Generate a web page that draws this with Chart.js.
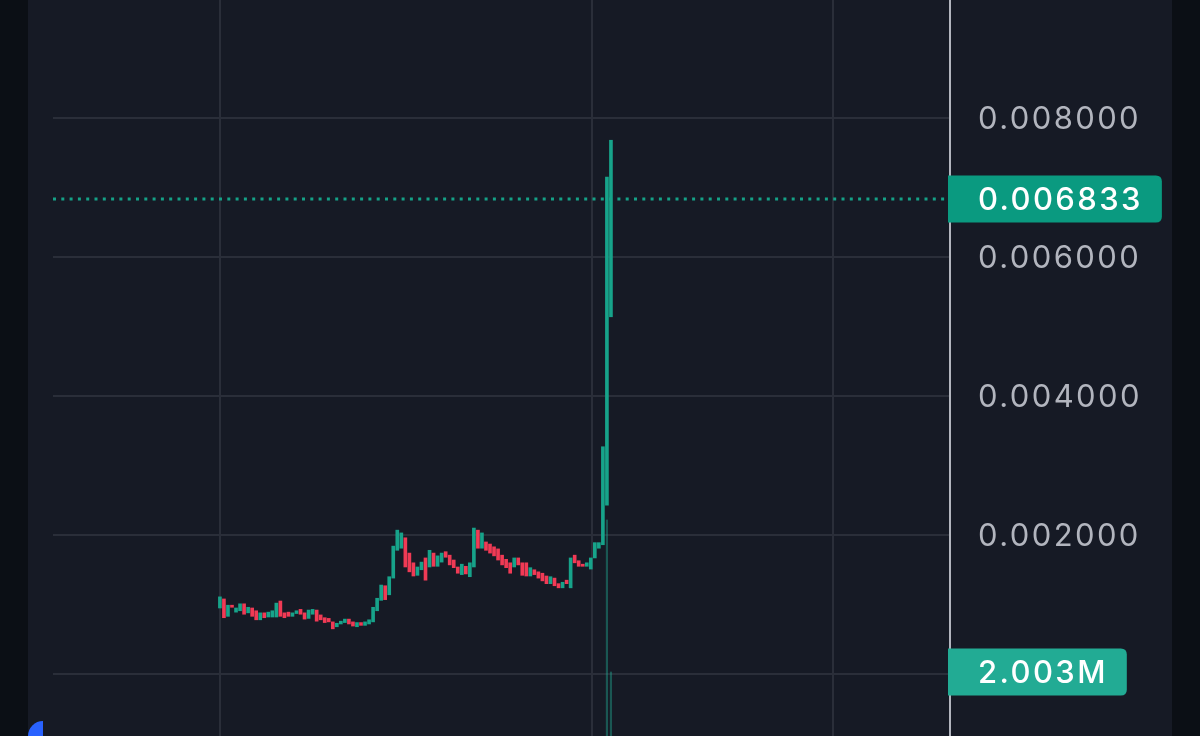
<!DOCTYPE html>
<html>
<head>
<meta charset="utf-8">
<title>Price chart</title>
<script src="https://cdn.jsdelivr.net/npm/chart.js@4/dist/chart.umd.min.js"></script>
<style>
    html, body {
        margin: 0;
        padding: 0;
        width: 1200px;
        height: 736px;
        overflow: hidden;
        background: #0b0f15;
    }
    #pane {
        position: absolute;
        left: 28px;
        top: 0;
        width: 1144px;
        height: 736px;
        background: #161a25;
    }
    #chartCanvas {
        position: absolute;
        left: 0;
        top: 0;
    }
    #logo {
        position: absolute;
        left: 28px;
        top: 721px;
        width: 15px;
        height: 15px;
        background: #2962ff;
        border-top-left-radius: 15px;
    }
</style>
</head>
<body>
<div id="pane"></div>
<canvas id="chartCanvas" width="1200" height="736"></canvas>
<div id="logo"></div>
<script>

/*
 * Data
 */

const openPrices = [
    0.00095, 0.00108, 0.00083, 0.00099, 0.00089, 0.00091, 0.00101, 0.00088, 0.00095, 0.00091,
    0.00078, 0.00088, 0.00082, 0.00082, 0.00082, 0.00105, 0.00088, 0.00089, 0.00083, 0.00087,
    0.00093, 0.00088, 0.00080, 0.00086, 0.00092, 0.00085, 0.00081, 0.00080, 0.00075, 0.00068,
    0.00072, 0.00074, 0.00079, 0.00075, 0.00068, 0.00074, 0.00070, 0.00072, 0.00075, 0.00091,
    0.00106, 0.00127, 0.00114, 0.00138, 0.00178, 0.00181, 0.00196, 0.00174, 0.00160, 0.00142,
    0.00150, 0.00167, 0.00154, 0.00174, 0.00155, 0.00161, 0.00176, 0.00171, 0.00164, 0.00154,
    0.00143, 0.00155, 0.00140, 0.00154, 0.00207, 0.00181, 0.00190, 0.00187, 0.00183, 0.00180,
    0.00171, 0.00165, 0.00160, 0.00154, 0.00167, 0.00160, 0.00160, 0.00141, 0.00150, 0.00147,
    0.00145, 0.00141, 0.00130, 0.00138, 0.00130, 0.00124, 0.00135, 0.00124, 0.00171, 0.00163,
    0.00158, 0.00155, 0.00151, 0.00167, 0.00181, 0.00186, 0.00243, 0.00514
];

const closePrices = [
    0.00111, 0.00081, 0.00099, 0.00096, 0.00095, 0.00101, 0.00086, 0.00096, 0.00083, 0.00078,
    0.00088, 0.00081, 0.00089, 0.00091, 0.00102, 0.00083, 0.00081, 0.00083, 0.00088, 0.00091,
    0.00086, 0.00079, 0.00092, 0.00093, 0.00076, 0.00078, 0.00074, 0.00075, 0.00065, 0.00073,
    0.00076, 0.00079, 0.00072, 0.00069, 0.00074, 0.00070, 0.00075, 0.00078, 0.00096, 0.00109,
    0.00128, 0.00107, 0.00140, 0.00184, 0.00207, 0.00203, 0.00154, 0.00147, 0.00141, 0.00154,
    0.00161, 0.00135, 0.00178, 0.00155, 0.00170, 0.00174, 0.00168, 0.00157, 0.00153, 0.00145,
    0.00158, 0.00144, 0.00160, 0.00210, 0.00181, 0.00203, 0.00178, 0.00174, 0.00170, 0.00164,
    0.00157, 0.00153, 0.00145, 0.00167, 0.00157, 0.00142, 0.00141, 0.00153, 0.00143, 0.00138,
    0.00134, 0.00130, 0.00140, 0.00127, 0.00124, 0.00132, 0.00130, 0.00167, 0.00160, 0.00155,
    0.00155, 0.00160, 0.00167, 0.00189, 0.00189, 0.00327, 0.00715, 0.00768
];

// volume in millions, only the bars that show in the picture
const volumes = openPrices.map(() => null);
volumes[96] = 6.76;
volumes[97] = 2.003;

const priceTicks = [0, 0.002, 0.004, 0.006, 0.008];
const timeGridAt = [0, 92.3, 152.1];

const lastPrice = 0.006833;
const lastPriceLabel = "0.006833";
const lastVolumeLabel = "2.003M";


document.addEventListener(

    "DOMContentLoaded",

    () => {

        const upColor = "#17a38a";
        const downColor = "#f03a55";
        const spacing = "2.4px";

        const axisFont = {
            family: "Inter",
            size: 31,
            weight: "400"
        };

        /*
         * Overlay: last price line and axis tags
         */

        const overlay = {

            id: "overlay",

            beforeDraw(chart) {
                chart.ctx.letterSpacing = spacing;
            },

            beforeDatasetsDraw(chart) {

                const ctx = chart.ctx;
                const area = chart.chartArea;
                const y = Math.round(chart.scales.y.getPixelForValue(lastPrice));

                ctx.save();
                ctx.strokeStyle = "#15a187";
                ctx.lineWidth = 3;
                ctx.setLineDash([3, 5.3]);
                ctx.beginPath();
                ctx.moveTo(area.left, y);
                ctx.lineTo(area.right, y);
                ctx.stroke();
                ctx.restore();

            },

            afterDraw(chart) {

                const ctx = chart.ctx;
                const area = chart.chartArea;

                const tag = (text, y, color) => {

                    ctx.save();
                    ctx.letterSpacing = spacing;
                    ctx.font = "500 " + axisFont.size + "px " + axisFont.family;

                    const textX = area.right + 28;
                    const w = ctx.measureText(text).width;
                    const left = area.right - 2;
                    const right = textX + w + 19;
                    const top = y - 23.5;
                    const bottom = y + 23.5;
                    const r = 6;

                    ctx.fillStyle = color;
                    ctx.beginPath();
                    ctx.moveTo(left, top);
                    ctx.lineTo(right - r, top);
                    ctx.quadraticCurveTo(right, top, right, top + r);
                    ctx.lineTo(right, bottom - r);
                    ctx.quadraticCurveTo(right, bottom, right - r, bottom);
                    ctx.lineTo(left, bottom);
                    ctx.closePath();
                    ctx.fill();

                    ctx.fillStyle = "#ffffff";
                    ctx.textBaseline = "middle";
                    ctx.textAlign = "left";
                    ctx.fillText(text, textX, y + 2);
                    ctx.restore();

                };

                tag(
                    lastPriceLabel,
                    chart.scales.y.getPixelForValue(lastPrice),
                    "#0a9a80"
                );

                tag(
                    lastVolumeLabel,
                    chart.scales.yv.getPixelForValue(volumes[volumes.length - 1]),
                    "#22ab94"
                );

            }

        };


        /*
         * Candle chart
         */

        const canvas = document.getElementById("chartCanvas");

        new Chart(

            canvas,

            {

                type: "bar",

                data: {

                    datasets: [

                        {
                            label: "Volume",
                            data: volumes.map((v, i) => ({ x: i, y: v })),
                            yAxisID: "yv",
                            backgroundColor: "rgba(34, 171, 148, 0.42)",
                            barThickness: 1.5,
                            grouped: false,
                            order: 2
                        },

                        {
                            label: "Price",
                            data: openPrices.map((o, i) => ({ x: i, y: [o, closePrices[i]] })),
                            yAxisID: "y",
                            backgroundColor: openPrices.map(
                                (o, i) => closePrices[i] >= o ? upColor : downColor
                            ),
                            barThickness: 3,
                            minBarLength: 2,
                            grouped: false,
                            order: 1
                        }

                    ]

                },

                options: {

                    responsive: false,
                    animation: false,
                    devicePixelRatio: 1,

                    layout: {
                        padding: { left: 53, right: 0, top: 0, bottom: 0 }
                    },

                    plugins: {
                        legend: { display: false },
                        tooltip: { enabled: false }
                    },

                    scales: {

                        x: {
                            type: "linear",
                            offset: false,
                            min: -41.4,
                            max: 181.1,
                            afterBuildTicks: scale => {
                                scale.ticks = timeGridAt.map(v => ({ value: v }));
                            },
                            afterFit: scale => {
                                scale.height = 0;
                                scale.paddingLeft = 0;
                                scale.paddingRight = 0;
                            },
                            ticks: { display: false },
                            grid: {
                                offset: false,
                                color: "#2a2e39",
                                lineWidth: 2,
                                drawTicks: false
                            },
                            border: { display: false }
                        },

                        y: {
                            type: "linear",
                            position: "right",
                            min: -0.000892,
                            max: 0.009698,
                            afterBuildTicks: scale => {
                                scale.ticks = priceTicks.map(v => ({ value: v }));
                            },
                            afterFit: scale => {
                                scale.width = 250;
                                scale.paddingTop = 0;
                                scale.paddingBottom = 0;
                            },
                            ticks: {
                                color: "#b2b5be",
                                font: axisFont,
                                padding: 28,
                                labelOffset: 2,
                                callback: v => v === 0 ? "" : v.toFixed(6)
                            },
                            grid: {
                                color: "#2a2e39",
                                lineWidth: 2,
                                drawTicks: false
                            },
                            border: {
                                color: "#b2b5be",
                                width: 2
                            }
                        },

                        yv: {
                            type: "linear",
                            display: false,
                            min: 0,
                            max: 23.03
                        }

                    }

                },

                plugins: [overlay]

            }

        );

    }

);
</script>
</body>
</html>
